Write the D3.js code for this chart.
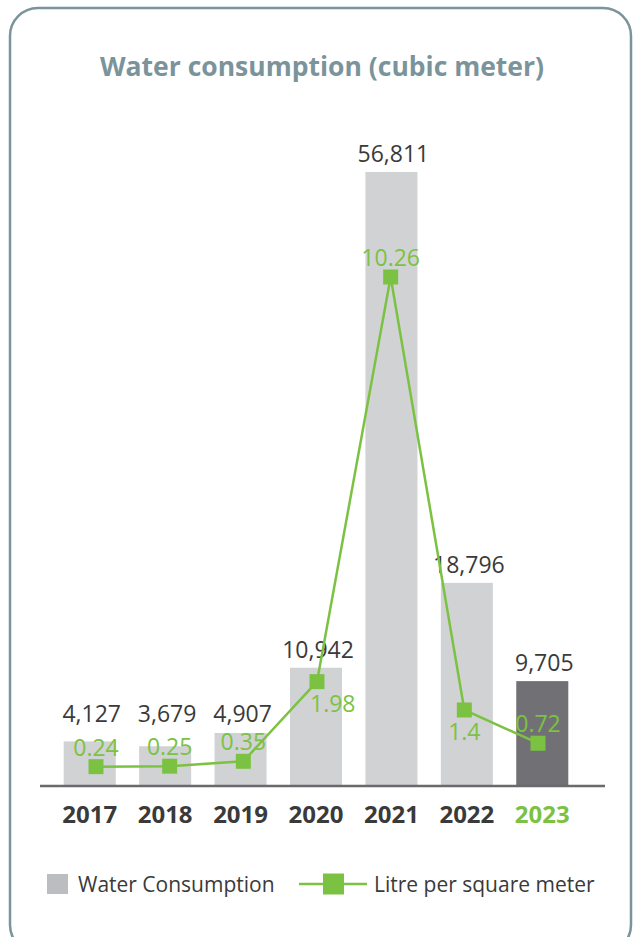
<!DOCTYPE html>
<html>
<head>
<meta charset="utf-8">
<script src="https://cdnjs.cloudflare.com/ajax/libs/d3/7.8.5/d3.min.js"></script>
<style>
  body { margin: 0; background: #fff; }
  text { font-family: "Open Sans", sans-serif; }
</style>
</head>
<body>
<div id="viz"></div>
<script>
"use strict";

const years = ["2017", "2018", "2019", "2020", "2021", "2022", "2023"];
const consumption = [4127, 3679, 4907, 10942, 56811, 18796, 9705];
const litrePerSqm = [0.24, 0.25, 0.35, 1.98, 10.26, 1.4, 0.72];
const litreLabels = ["0.24", "0.25", "0.35", "1.98", "10.26", "1.4", "0.72"];
const litreLabelSide = ["above", "above", "above", "belowRight", "above", "below", "above"];

const w = 636;
const h = 937;
const baseY = 786;
const green = "#7cc242";
const dark = "#3a3a3a";

const svg = d3.select("#viz")
  .append("svg")
  .attr("width", w)
  .attr("height", h)

// frame
svg.append("rect")
  .attr("x", 10)
  .attr("y", 8)
  .attr("width", 621)
  .attr("height", 945)
  .attr("rx", 28)
  .attr("fill", "none")
  .attr("stroke", "#7b939b")
  .attr("stroke-width", 2.5)

svg.append("text")
  .attr("x", 322)
  .attr("y", 76)
  .attr("text-anchor", "middle")
  .attr("font-size", 26.5)
  .attr("font-weight", 700)
  .attr("fill", "#7b939b")
  .text("Water consumption (cubic meter)")

const x = d3.scaleBand()
  .domain(years)
  .range([52, 580])
  .paddingInner(0.31)
  .paddingOuter(0.155)

const xLine = d3.scalePoint()
  .domain(years)
  .range([96, 538])

const y = d3.scaleLinear()
  .domain([0, d3.max(consumption)])
  .range([baseY, 172])

const y2 = d3.scaleLinear()
  .domain([0, d3.max(litrePerSqm)])
  .range([778.4, 277])

const bars = years.map((yr, i) => ({ yr, v: consumption[i] }))

svg.append("g")
  .selectAll("rect")
  .data(bars)
  .join("rect")
  .attr("x", d => x(d.yr))
  .attr("y", d => y(d.v))
  .attr("width", x.bandwidth())
  .attr("height", d => baseY - y(d.v))
  .attr("fill", d => d.yr === "2023" ? "#717175" : "#d1d2d4")

svg.append("g")
  .selectAll("text")
  .data(bars)
  .join("text")
  .attr("x", d => x(d.yr) + x.bandwidth() / 2 + 2)
  .attr("y", d => Math.min(y(d.v) - 10, 722))
  .attr("text-anchor", "middle")
  .attr("font-size", 23)
  .attr("fill", dark)
  .text(d => d3.format(",")(d.v))

// axis line
svg.append("line")
  .attr("x1", 40)
  .attr("x2", 605)
  .attr("y1", baseY)
  .attr("y2", baseY)
  .attr("stroke", "#6a6a6c")
  .attr("stroke-width", 2.5)

const axis = svg.append("g")
  .attr("transform", `translate(0,${baseY})`)
  .call(d3.axisBottom(x).tickSize(0).tickPadding(0))

axis.select(".domain").remove()
axis.selectAll("text")
  .attr("y", 37)
  .attr("dy", null)
  .attr("font-size", 24)
  .attr("font-weight", 700)
  .attr("font-family", "Open Sans, sans-serif")
  .attr("fill", d => d === "2023" ? green : dark)

// line series
const pts = years.map((yr, i) => ({ yr, v: litrePerSqm[i], label: litreLabels[i], side: litreLabelSide[i] }))

svg.append("path")
  .datum(pts)
  .attr("fill", "none")
  .attr("stroke", green)
  .attr("stroke-width", 2.5)
  .attr("d", d3.line().x(d => xLine(d.yr)).y(d => y2(d.v)))

svg.append("g")
  .selectAll("rect")
  .data(pts)
  .join("rect")
  .attr("x", d => xLine(d.yr) - 7.5)
  .attr("y", d => y2(d.v) - 7.5)
  .attr("width", 15)
  .attr("height", 15)
  .attr("fill", green)

svg.append("g")
  .selectAll("text")
  .data(pts)
  .join("text")
  .attr("x", d => d.side === "belowRight" ? xLine(d.yr) - 7 : xLine(d.yr))
  .attr("y", d => d.side === "above" ? y2(d.v) - 11 : y2(d.v) + 30)
  .attr("text-anchor", d => d.side === "belowRight" ? "start" : "middle")
  .attr("font-size", 23)
  .attr("fill", green)
  .text(d => d.label)

// legend
const legend = svg.append("g")
  .attr("transform", "translate(0,884)")

legend.append("rect")
  .attr("x", 47)
  .attr("y", -10)
  .attr("width", 21)
  .attr("height", 20)
  .attr("fill", "#bcbdc1")

legend.append("text")
  .attr("x", 78)
  .attr("y", 8)
  .attr("font-size", 21)
  .attr("fill", dark)
  .text("Water Consumption")

legend.append("line")
  .attr("x1", 299)
  .attr("x2", 367)
  .attr("stroke", green)
  .attr("stroke-width", 2.5)

legend.append("rect")
  .attr("x", 323)
  .attr("y", -10.5)
  .attr("width", 21)
  .attr("height", 21)
  .attr("fill", green)

legend.append("text")
  .attr("x", 374)
  .attr("y", 8)
  .attr("font-size", 21)
  .attr("fill", dark)
  .text("Litre per square meter")
</script>
</body>
</html>
